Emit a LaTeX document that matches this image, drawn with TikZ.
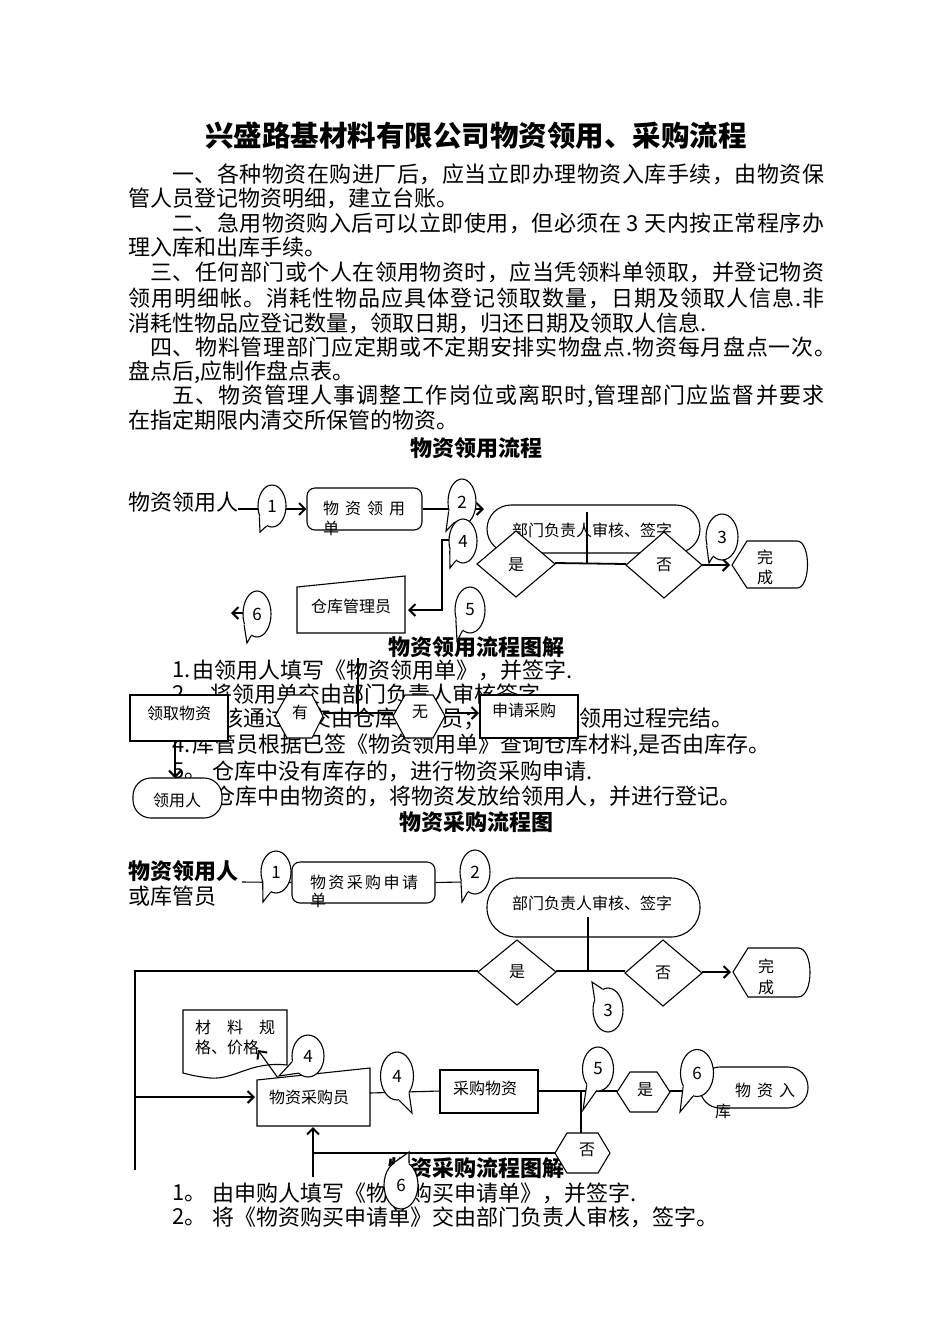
\documentclass[tikz,border=0pt]{standalone}
\usepackage{fontspec}
\setmainfont{Noto Sans CJK SC}
\usetikzlibrary{shapes.geometric,arrows.meta,calc}
\makeatletter
\def\spreadtxt#1{\spreadfirst#1\relax}
\def\spreadfirst#1{#1\spreadrest}
\def\spreadrest#1{\ifx#1\relax\else\hfil#1\expandafter\spreadrest\fi}
\makeatother
\newcommand{\jl}[2]{\hbox to #1pt{\spreadtxt{#2}}}
\newcommand{\gapp}[1]{\hspace{#1pt}}
\newcommand{\bub}[8]{%
  \node[bubshape, minimum width=#3pt, minimum height=#4pt] (#1) at (#2) {};
  \coordinate (#1-tip) at (#8);
  \fill[white] (#1.#6) -- (#1-tip) -- (#1.#7) -- ($(#1.#7)!0.3!(#1.center)$) -- ($(#1.#6)!0.3!(#1.center)$) -- cycle;
  \draw[ln] (#1.#6) -- (#1-tip) -- (#1.#7);
  \node[bubtext] (#1-lbl) at (#1.center) {#5};
}
\begin{document}
\begin{tikzpicture}[x=1pt,y=-1pt,
  ln/.style={line width=1.1pt},
  arr/.style={line width=1.1pt, -{Straight Barb[length=6pt,width=12pt,line width=2pt]}},
  shp/.style={draw, line width=1.1pt, fill=white},
  body/.style={anchor=west, inner sep=0pt, font=\fontsize{22}{24}\selectfont},
  hd/.style={inner sep=0pt, font=\bfseries\fontsize{22}{24}\selectfont},
  lab/.style={inner sep=0pt, font=\fontsize{16}{18}\selectfont},
  bubshape/.style={ellipse, draw, line width=1.1pt, fill=white, inner sep=0pt},
  bubtext/.style={inner sep=0pt, font=\fontsize{17}{18}\selectfont}]
\fill[white] (0,0) rectangle (950,1344);
\useasboundingbox (0,0) rectangle (950,1344);

% ---------- title and rules ----------
\node[inner sep=0pt, font=\bfseries\fontsize{28.5}{30}\selectfont] (title) at (476,136) {兴盛路基材料有限公司物资领用、采购流程};
\node[body] (p1) at (172,174) {\jl{652}{一、各种物资在购进厂后，应当立即办理物资入库手续，由物资保}};
\node[body] (p2) at (128,198) {管人员登记物资明细，建立台账。};
\node[body] (p3) at (172,223) {\jl{652}{二、急用物资购入后可以立即使用，但必须在~3~天内按正常程序办}};
\node[body] (p4) at (128,247) {理入库和出库手续。};
\node[body] (p5) at (150,272) {\jl{674}{三、任何部门或个人在领用物资时，应当凭领料单领取，并登记物资}};
\node[body] (p6) at (128,298) {\jl{696}{领用明细帐。消耗性物品应具体登记领取数量，日期及领取人信息.非}};
\node[body] (p7) at (128,323) {消耗性物品应登记数量，领取日期，归还日期及领取人信息.};
\node[body] (p8) at (150,347) {\jl{686}{四、物料管理部门应定期或不定期安排实物盘点.物资每月盘点一次。}};
\node[body] (p9) at (128,372) {盘点后,应制作盘点表。};
\node[body] (p10) at (172,396) {\jl{652}{五、物资管理人事调整工作岗位或离职时,管理部门应监督并要求}};
\node[body] (p11) at (128,420) {在指定期限内清交所保管的物资。};

\node[hd] (h1) at (476,448) {物资领用流程};
\node[hd] (h2) at (476,647) {物资领用流程图解};
\node[body] (s1n) at (172,670) {1.};
\node[body] (s1) at (192,670) {由领用人填写《物资领用单》，并签字.};
\node[body] (s2n) at (172,694) {2.};
\node[body] (s2) at (210,694) {将领用单交由部门负责人审核签字.};
\node[body] (s3n) at (172,719) {3.};
\node[body] (s3) at (199,719) {审核通过后交由仓库管理员；领取物资,领用过程完结。};
\node[body] (s4n) at (172,745) {4.};
\node[body] (s4) at (192,745) {库管员根据已签《物资领用单》查询仓库材料,是否由库存。};
\node[body] (s5n) at (172,771) {5。};
\node[body] (s5) at (212,771) {仓库中没有库存的，进行物资采购申请.};
\node[body] (s6n) at (172,796) {6。};
\node[body] (s6) at (213,796) {仓库中由物资的，将物资发放给领用人，并进行登记。};
\node[hd] (h3) at (476,822) {物资采购流程图};

\node[hd] (h4) at (476,1168) {物资采购流程图解};
\node[body] (t1n) at (172,1193) {1。};
\node[body] (t1) at (212,1193) {由申购人填写《物资购买申请单》，并签字.};
\node[body] (t2n) at (172,1217) {2。};
\node[body] (t2) at (212,1217) {将《物资购买申请单》交由部门负责人审核，签字。};

% ---------- diagram 1 ----------
\node[body] (d1who) at (128,502) {物资领用人};
\coordinate (d1a) at (238,509);
\node[draw, line width=1.1pt, fill=white, rounded corners=8pt, minimum width=115pt, minimum height=42pt, inner sep=0pt] (form1) at (364.5,509) {};
\node[lab] (form1t) at (364,508) {物\gapp{6}资\gapp{6}领\gapp{6}用};
\node[lab] (form1u) at (331,528) {单};
\draw[arr] (d1a) -- (form1.west);
\bub{b11}{272,506}{28}{42}{1}{220}{255}{260,532}
\coordinate (d1c) at (484,509);
\draw[arr] (form1.east) -- (d1c);
\bub{b12}{462,502}{28}{46}{2}{215}{250}{446,531}

\draw[shp] (297,587) -- (405,576) -- (405,633) -- (297,633) -- cycle;
\node[lab] (store) at (351,606) {仓库管理员};
\coordinate (storeE) at (408,610);
\draw[arr] (455,540) -- (442,540) -- (442,610) -- (storeE);
\bub{b14}{463,541}{28}{44}{4}{215}{250}{450,568}
\bub{b15}{470,610}{30}{46}{5}{215}{250}{457,641}
\coordinate (d1six) at (231,613);
\draw[arr] (257,613) -- (d1six);
\bub{b16}{257,614}{28}{46}{6}{220}{255}{247,643}

\node[draw, line width=1.1pt, fill=white, rounded corners=24pt, minimum width=213pt, minimum height=48pt, inner sep=0pt] (rev1) at (593.5,529) {};
\node[lab] (rev1t) at (592,530) {部门负责人审核、签字};
\draw[ln] (587,512) -- (587,563);
\draw[shp] (477,564) -- (516,531) -- (555,564) -- (516,597) -- cycle;
\node[lab] (yes1) at (516,565) {是};
\draw[shp] (626,565) -- (664,532) -- (702,565) -- (664,598) -- cycle;
\node[lab] (no1) at (664,565) {否};
\draw[line width=1.8pt] (555,563) -- (626,564);
\coordinate (done1W) at (730,565);
\draw[arr] (702,565) -- (done1W);
\draw[shp] (732,565) -- (747,541) -- (797,541) .. controls (811,541) and (811,588) .. (797,588) -- (747,588) -- cycle;
\node[lab] (done1a) at (765,557) {完};
\node[lab] (done1b) at (765,577) {成};
\bub{b13}{722,537}{32}{46}{3}{210}{245}{709,563}

% ---------- middle part ----------
\draw[ln] (358,658) -- (358,713);
\draw[shp] (130,695) rectangle (228,741);
\node[lab] (take) at (179,713) {领取物资};
\coordinate (userN) at (175,778);
\draw[arr] (175,741) -- (userN);
\draw[shp, rounded corners=18pt] (133,778) rectangle (222,818);
\node[lab] (user) at (177,800) {领用人};
\draw[ln] (323,713) -- (393,713);
\draw[shp] (275,716) -- (287,695) -- (312,695) -- (323,716) -- (312,738) -- (287,738) -- cycle;
\node[lab] (have) at (300,712) {有};
\draw[shp] (393,716) -- (405,695) -- (433,695) -- (445,716) -- (433,738) -- (405,738) -- cycle;
\node[lab] (none) at (420,712) {无};
\coordinate (applyW) at (479,713);
\draw[arr] (445,713) -- (applyW);
\draw[shp] (480,695) rectangle (578,738);
\node[lab] (apply) at (524,710) {申请采购};

% ---------- diagram 2 ----------
\node[body, font=\bfseries\fontsize{22}{24}\selectfont] (d2who) at (128,871) {物资领用人};
\node[body] (d2who2) at (128,896) {或库管员};
\node[draw, line width=1.1pt, fill=white, rounded corners=8pt, minimum width=143pt, minimum height=41pt, inner sep=0pt] (form2) at (363.5,882.5) {};
\node[lab] (form2t) at (364,882) {物\gapp{2.4}资\gapp{2.4}采\gapp{2.4}购\gapp{2.4}申\gapp{2.4}请};
\node[lab] (form2u) at (318,900) {单};
\coordinate (d2a) at (242,882);
\draw[ln] (d2a) -- (form2.west);
\bub{b21}{276,872}{30}{42}{1}{220}{255}{263,902}
\draw[ln] (form2.east) -- (462,882);
\bub{b22}{475,872}{30}{44}{2}{215}{250}{462,902}

\node[draw, line width=1.1pt, fill=white, rounded corners=29pt, minimum width=213pt, minimum height=59pt, inner sep=0pt] (rev2) at (593.5,907.5) {};
\node[lab] (rev2t) at (592,903) {部门负责人审核、签字};
\draw[ln] (588,917) -- (588,971);
\coordinate (loopL) at (135,971);
\coordinate (loopB) at (135,1170);
\draw[ln] (478,971) -- (loopL) -- (loopB);
\draw[shp] (478,972) -- (517,940) -- (556,972) -- (517,1005) -- cycle;
\node[lab] (yes2) at (517,972) {是};
\draw[shp] (625,973) -- (663,940) -- (702,973) -- (663,1006) -- cycle;
\node[lab] (no2) at (663,973) {否};
\draw[ln] (556,971) -- (625,971);
\coordinate (done2W) at (731,972);
\draw[arr] (702,972) -- (done2W);
\draw[shp] (733,972) -- (748,948) -- (798,948) .. controls (814,948) and (814,997) .. (798,997) -- (748,997) -- cycle;
\node[lab] (done2a) at (766,966) {完};
\node[lab] (done2b) at (766,987) {成};
\bub{b23}{608,1010}{30}{44}{3}{105}{140}{592,982}

\coordinate (buyerW) at (255,1097);
\draw[arr] (135,1097) -- (buyerW);
\draw[shp] (183,1010) -- (287,1010) -- (287,1065) .. controls (250,1061) and (235,1080) .. (210,1078) .. controls (200,1077) and (190,1075) .. (183,1073) -- cycle;
\node[lab, anchor=west] (spec1) at (195,1027) {材\gapp{16}料\gapp{16}规};
\node[lab, anchor=west] (spec2) at (195,1047) {格、价格};
\draw[shp] (257,1080) -- (370,1068) -- (370,1126) -- (257,1126) -- cycle;
\node[lab] (buyer) at (309,1097) {物资采购员};
\coordinate (specTip) at (258,1050);
\draw[arr] (278,1078) -- (specTip);
\bub{b24}{308,1056}{32}{42}{4}{200}{240}{279,1076}

\draw[ln] (370,1093) -- (440,1091);
\bub{b25}{397,1076}{33}{48}{4}{275}{305}{412,1113}
\draw[shp] (440,1070) rectangle (538,1113);
\node[lab] (buy) at (485,1088) {采购物资};
\draw[ln] (538,1091) -- (617,1091);
\draw[ln] (581,1091) -- (581,1133);
\draw[shp] (555,1153) -- (567,1133) -- (598,1133) -- (610,1153) -- (598,1173) -- (567,1173) -- cycle;
\node[lab] (no3) at (587,1150) {否};
\draw[ln] (555,1153) -- (313,1153);
\coordinate (buyerS) at (313,1127);
\draw[arr] (313,1177) -- (buyerS);
\draw[shp] (617,1092) -- (630,1072) -- (657,1072) -- (670,1092) -- (657,1112) -- (630,1112) -- cycle;
\node[lab] (yes3) at (645,1090) {是};
\bub{b26}{598,1069}{31}{44}{5}{235}{265}{583,1110}
\draw[ln] (670,1091) -- (700,1091);
\draw[shp, rounded corners=20pt] (700,1067) rectangle (808,1108);
\node[lab] (stock) at (765,1090) {物\gapp{6}资\gapp{6}入};
\node[lab] (stock2) at (723,1111) {库};
\bub{b27}{697,1073}{33}{47}{6}{225}{260}{680,1112}
\bub{b28}{401,1185}{34}{48}{6}{70}{105}{409,1152}
\end{tikzpicture}
\end{document}
